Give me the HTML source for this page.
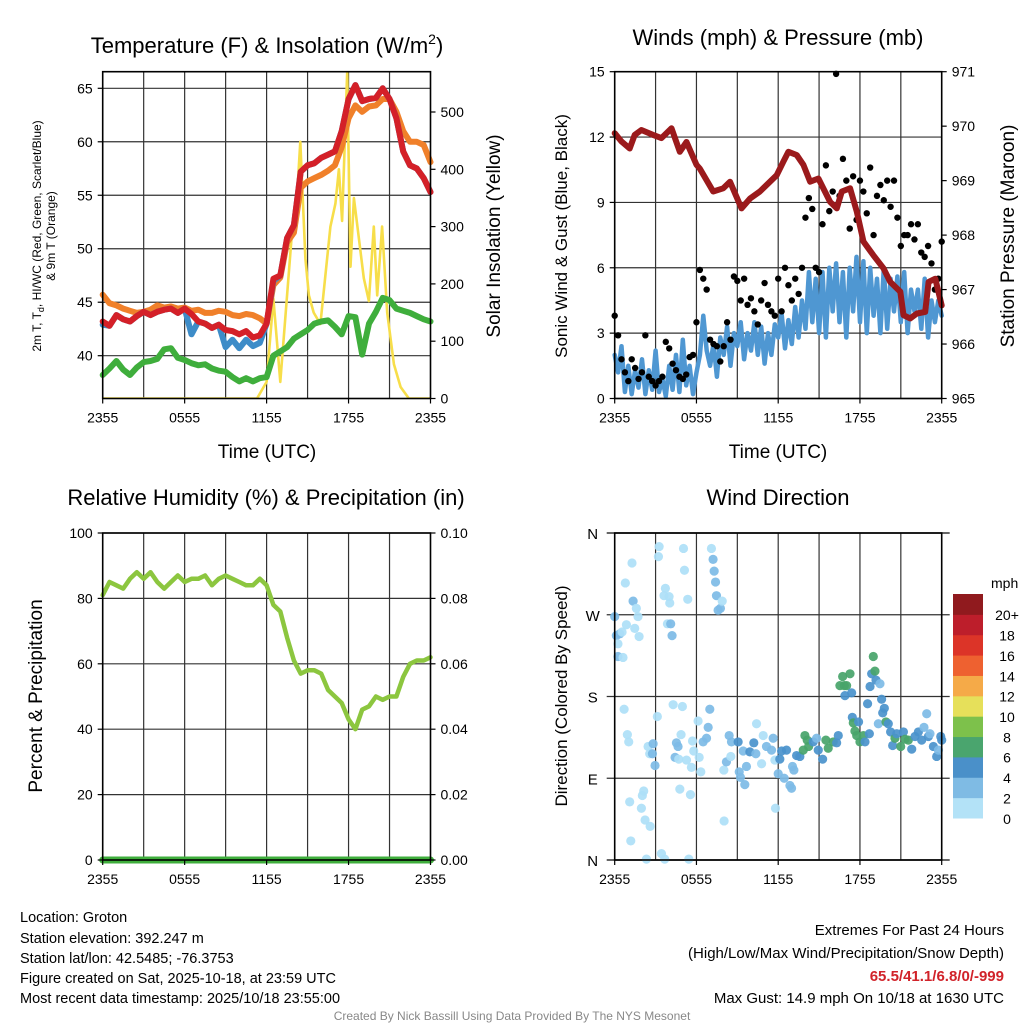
<!DOCTYPE html>
<html><head><meta charset="utf-8"><style>
html,body{margin:0;padding:0;background:#fff;}
svg{display:block;font-family:"Liberation Sans",Arial,sans-serif;}
</style></head><body>
<svg id="chart" width="1024" height="1024" viewBox="0 0 1024 1024" xmlns="http://www.w3.org/2000/svg">
<defs>
<clipPath id="clip1"><rect x="102.7" y="71.7" width="327.8" height="326.8"/></clipPath>
</defs>
<g id="grids"></g>
<g id="marks"></g>
<g id="frames"></g>
<g id="texts">
<text x="267" y="53" font-size="22" text-anchor="middle">Temperature (F) &amp; Insolation (W/m<tspan font-size="14" dy="-9">2</tspan><tspan dy="9">)</tspan></text>
<text x="778" y="45" font-size="22" text-anchor="middle">Winds (mph) &amp; Pressure (mb)</text>
<text x="266" y="505" font-size="22" text-anchor="middle">Relative Humidity (%) &amp; Precipitation (in)</text>
<text x="778" y="505" font-size="22" text-anchor="middle">Wind Direction</text>
<text x="267" y="458" font-size="19" text-anchor="middle">Time (UTC)</text>
<text x="778" y="458" font-size="19" text-anchor="middle">Time (UTC)</text>
<text transform="translate(41,236) rotate(-90)" font-size="12" text-anchor="middle">2m T, T<tspan font-size="9" dy="3">d</tspan><tspan dy="-3">, HI/WC (Red, Green, Scarlet/Blue)</tspan></text>
<text transform="translate(55,236) rotate(-90)" font-size="12" text-anchor="middle">&amp; 9m T (Orange)</text>
<text transform="translate(500,236) rotate(-90)" font-size="19" text-anchor="middle">Solar Insolation (Yellow)</text>
<text transform="translate(567,236) rotate(-90)" font-size="17" text-anchor="middle">Sonic Wind &amp; Gust (Blue, Black)</text>
<text transform="translate(1014,236) rotate(-90)" font-size="19" text-anchor="middle">Station Pressure (Maroon)</text>
<text transform="translate(42,696) rotate(-90)" font-size="19" text-anchor="middle">Percent &amp; Precipitation</text>
<text transform="translate(567,696) rotate(-90)" font-size="17" text-anchor="middle">Direction (Colored By Speed)</text>
<text x="991" y="588" font-size="14">mph</text>
<g font-size="14.5">
<text x="20" y="922">Location: Groton</text>
<text x="20" y="943">Station elevation: 392.247 m</text>
<text x="20" y="963">Station lat/lon: 42.5485; -76.3753</text>
<text x="20" y="983">Figure created on Sat, 2025-10-18, at 23:59 UTC</text>
<text x="20" y="1003">Most recent data timestamp: 2025/10/18 23:55:00</text>
</g>
<g font-size="15" text-anchor="end">
<text x="1004" y="935">Extremes For Past 24 Hours</text>
<text x="1004" y="958">(High/Low/Max Wind/Precipitation/Snow Depth)</text>
<text x="1004" y="981" fill="#d1232a" font-weight="bold">65.5/41.1/6.8/0/-999</text>
<text x="1004" y="1003">Max Gust: 14.9 mph On 10/18 at 1630 UTC</text>
</g>
<text x="512" y="1020" font-size="12" fill="#888" text-anchor="middle">Created By Nick Bassill Using Data Provided By The NYS Mesonet</text>
</g>
</svg>
<script>
// ---- data ----
const hourTicks = [0,6,12,18,24];
const hourTickLabels = ["2355","0555","1155","1755","2355"];
const tempTicks = [40,45,50,55,60,65];
const solarTicks = [0,100,200,300,400,500];
const windTicks = [0,3,6,9,12,15];
const presTicks = [965,966,967,968,969,970,971];
const rhTicks = [0,20,40,60,80,100];
const precipTickLabels = ["0.00","0.02","0.04","0.06","0.08","0.10"];
const dirTicks = [0,90,180,270,360];
const dirTickLabels = ["N","E","S","W","N"];
const cbLevels = ["0","2","4","6","8","10","12","14","16","18","20+"];
const cbColors = ["#b3e2f7","#7fbbe4","#4a90c9","#4aa56e","#7dc14b","#e6e05a","#f5aa48","#ee6130","#dc3428","#bd1e2b","#901a1e"];

const tempRed = [43.2,42.8,43.8,43.4,43.2,43.7,44.1,43.8,44.1,44.3,44.4,44.0,44.4,43.9,43.2,43.0,42.6,42.9,42.4,42.3,42.0,42.3,41.7,41.9,43.0,47.2,47.5,51.0,52.2,57.2,57.8,58.0,58.5,58.8,59.1,61.0,64.0,65.3,63.8,64.0,64.1,65.0,64.0,62.2,59.1,57.8,57.5,56.6,55.3];
const tempOrange = [45.7,44.9,44.7,44.4,44.2,44.0,44.1,44.3,44.7,44.5,44.6,44.4,44.5,44.2,44.3,44.0,44.0,44.2,44.1,43.8,43.7,43.9,43.8,43.5,43.0,46.6,47.3,50.6,51.5,55.7,56.3,56.6,56.9,57.3,57.8,59.5,62.2,63.4,62.8,63.3,63.4,64.0,64.0,62.8,61.0,60.0,60.0,59.7,58.1];
const tempBlue = [42.9,42.8,43.8,43.4,43.2,43.7,44.1,43.8,44.1,44.3,44.4,44.0,44.4,42.0,43.2,43.0,42.6,42.9,40.8,41.5,40.7,41.5,40.9,41.2,43.0,47.0,47.5,51.0,52.2,57.2,57.8,58.0,58.5,58.8,59.1,61.0,64.0,65.3,63.8,64.0,64.1,65.0,64.0,62.2,59.1,57.8,57.5,56.6,55.3];
const tempGreen = [38.2,38.8,39.5,38.7,38.2,38.9,39.4,39.5,39.7,40.6,40.7,39.8,39.6,39.3,39.1,39.2,38.8,38.6,38.5,38.0,37.6,37.9,37.6,37.9,38.0,40.0,40.4,40.8,41.6,42.0,42.4,43.0,43.2,43.3,42.7,42.0,43.7,43.6,40.1,43.0,44.1,45.4,45.2,44.4,44.2,44.0,43.7,43.4,43.2];
const solarHours = [0,11.3,12.0,12.5,13.0,13.86,14.2,14.47,14.84,15.1,15.45,15.94,16.67,17.04,17.29,17.53,17.9,18.14,18.39,19.12,19.49,19.85,20.1,20.46,20.83,21.32,21.81,22.42,24];
const solarValues = [0,0,29,174,29,290,340,448,244,180,150,130,300,340,400,310,570,230,350,210,170,300,180,300,150,60,20,0,0];

const windSpeed = [2.0,1.2,2.4,0.3,1.5,0.2,1.3,0.5,1.8,0.2,1.3,0.4,2.2,0.3,0.9,0.1,1.5,0.4,2.0,0.3,2.7,0.6,1.5,0.2,1.2,2.0,3.8,2.2,1.5,2.5,1.0,2.8,2.0,3.3,1.5,3.0,2.4,3.5,1.8,3.0,2.2,3.5,2.0,3.3,1.6,3.0,2.0,3.4,2.8,3.9,2.3,3.6,2.5,4.2,2.8,4.5,3.2,5.8,3.5,5.5,3.0,5.8,2.8,6.0,4.0,6.2,3.5,5.8,2.8,6.0,4.0,6.5,3.5,6.3,3.0,6.0,3.8,5.5,3.0,6.0,3.2,5.5,4.0,5.6,3.5,5.8,3.0,5.0,4.0,5.0,3.2,5.5,2.8,4.5,3.5,4.5,3.8];
const windGust = [3.8,2.9,1.8,1.2,0.8,1.8,1.4,0.9,1.2,2.9,1.0,0.8,0.6,0.8,1.0,2.6,2.3,1.6,1.3,1.0,0.9,1.1,1.9,2.0,3.5,5.9,5.5,5.0,2.7,2.5,2.4,1.7,2.4,3.5,2.7,5.6,5.4,4.5,5.5,4.3,4.6,4.0,3.4,4.5,5.3,4.3,4.0,3.8,5.5,4.0,6.0,5.2,4.5,5.5,4.8,6.0,8.3,9.2,8.7,6.0,5.8,8.0,10.7,8.6,9.5,14.9,9.3,11.0,10.0,7.8,10.2,8.2,10.0,9.5,8.5,10.6,7.5,9.3,9.8,9.1,10.0,8.8,10.0,8.3,7.0,7.5,7.5,8.0,7.3,8.0,6.7,6.5,7.0,6.2,5.0,5.5,7.2];
const presHours = [0,0.49,1.10,1.47,1.96,2.82,3.43,4.17,4.78,5.27,6.0,6.25,7.23,7.97,8.46,9.31,9.93,10.66,11.4,11.89,12.38,12.75,13.36,13.85,14.34,14.95,15.81,16.3,16.67,17.28,17.77,18.26,18.99,19.73,20.22,20.96,21.2,21.69,22.18,22.79,23.04,23.53,24.0];
const presValues = [969.87,969.72,969.59,969.84,969.93,969.84,969.78,969.96,969.53,969.71,969.29,969.22,968.80,968.86,968.98,968.49,968.67,968.80,968.98,969.10,969.35,969.53,969.47,969.29,968.98,969.04,968.61,968.49,968.80,968.86,968.43,967.88,967.63,967.39,967.14,966.96,966.53,966.47,966.56,966.59,967.14,967.20,966.71];

const rhValues = [81,85,84,83,86,88,86,88,85,83,85,87,85,86,86,87,84,86,87,86,85,84,84,86,84,78,76,68,61,57,58,58,57,52,50,48,43,40,46,47,50,49,50,50,56,60,61,61,62,64].slice(0,49);
const precipValues = [0,0,0,0,0,0,0,0,0,0,0,0,0,0,0,0,0,0,0,0,0,0,0,0,0];

const dirHours = [0,0.12,0.37,0.24,0.24,0.61,0.54,0.86,0.78,1.27,1.35,1.59,1.71,1.47,1.79,0.69,0.93,1.03,1.10,1.18,1.96,2.03,2.13,2.23,2.60,2.33,2.45,2.57,2.82,2.77,2.96,3.13,3.26,3.21,3.72,3.62,3.99,4.04,3.87,4.11,4.21,3.43,3.67,4.29,4.97,4.53,4.65,4.43,4.70,5.27,4.87,4.78,5.56,5.44,5.05,5.12,5.36,5.63,5.71,5.80,6.12,6.20,6.32,6.49,6.74,6.86,6.98,7.10,7.22,7.30,7.40,7.47,7.59,7.76,7.89,8.03,8.01,8.20,8.40,8.57,8.52,9.06,9.14,9.23,9.55,9.43,9.67,9.92,10.21,10.41,10.36,10.78,10.90,11.14,11.51,11.63,11.76,11.80,12.0,12.12,12.25,12.44,12.61,12.86,12.98,13.05,13.15,13.35,13.59,13.96,14.13,13.84,14.23,14.57,14.82,14.94,15.26,15.50,15.67,16.04,16.29,16.41,16.53,16.73,16.85,17.02,17.27,16.90,17.39,17.44,17.51,17.63,17.76,17.90,18.0,18.25,18.37,18.56,18.69,18.74,18.86,18.98,19.10,19.18,19.35,19.47,19.59,19.67,19.79,19.91,20.08,20.25,20.40,20.57,20.70,20.99,21.19,21.31,21.55,21.80,22.04,22.29,22.53,22.70,22.90,23.02,23.14,23.39,23.63,23.76,23.93,24.0];
const dirDegrees = [268,247,249,238,224,223,251,259,305,327,285,277,268,255,246,166,138,130,64,21,57,71,76,44,37,1,125,117,128,117,104,158,345,334,299,291,290,283,260,260,247,7,1,171,169,129,125,113,111,110,138,78,72,1,343,319,287,102,131,120,153,113,97,130,134,146,166,343,331,318,306,291,275,277,285,43,99,108,137,130,114,130,97,91,83,120,103,119,129,150,117,106,137,125,121,134,110,57,95,111,120,90,121,82,79,103,99,115,114,137,132,121,125,130,134,121,111,132,123,130,129,137,192,202,192,192,205,181,184,157,151,142,137,152,130,137,130,172,139,191,205,224,208,198,150,194,177,162,167,152,150,141,126,134,139,125,141,133,132,122,136,141,132,146,161,136,139,125,114,121,136,132];
const dirSpeeds = [3,3,3,1,3,1,1,1,1,1,3,1,1,1,1,1,1,1,1,1,1,1,1,1,1,1,1,1,3,3,3,1,1,1,1,1,1,1,1,3,3,1,1,1,1,3,3,3,1,1,1,1,1,1,1,1,1,1,1,1,1,1,1,3,3,3,3,1,3,3,3,3,3,3,1,1,1,3,3,3,1,5,3,3,3,3,3,5,5,1,3,1,1,3,3,3,1,1,3,5,5,3,5,3,3,3,3,5,5,7,7,7,7,5,3,5,5,7,7,7,5,5,7,7,7,7,7,5,5,5,7,7,7,5,7,7,5,5,5,5,5,7,7,5,3,3,5,5,5,7,5,5,5,7,5,7,5,7,7,5,5,5,5,3,3,5,3,5,5,3,5,5];

// ---- helpers ----
const NS = "http://www.w3.org/2000/svg";
const gGrid = document.getElementById('grids');
const gMarks = document.getElementById('marks');
const gFrames = document.getElementById('frames');
const gTexts = document.getElementById('texts');
function mk(tag, attrs, parent){ const e=document.createElementNS(NS,tag); for(const k in attrs) e.setAttribute(k,attrs[k]); parent.appendChild(e); return e; }
function lin(d0,d1,r0,r1){ return v => r0 + (v-d0)/(d1-d0)*(r1-r0); }

const P1 = {x0:102.7,x1:430.5,y0:71.7,y1:398.5};
const P2 = {x0:614.7,x1:941.7,y0:71.7,y1:398.5};
const P3 = {x0:102.7,x1:430.5,y0:533,y1:860};
const P4 = {x0:614.7,x1:941.7,y0:533,y1:860};

function panelGrid(P, yScale, yTicks, name, extend){
  const xs = lin(0,24,P.x0,P.x1);
  for(let h=3; h<24; h+=3){
    const l = mk('line',{x1:xs(h),x2:xs(h),y1:P.y0,y2:P.y1,stroke:'#333','stroke-width':1.2},gGrid);
    
    
  }
  yTicks.forEach(t=>{
    const y = yScale(t);
    const l = mk('line',{x1:P.x0-(extend||0),x2:P.x1+(extend||0),y1:y,y2:y,stroke:'#333','stroke-width':1.2},gGrid);
    
    
  });
  const f = mk('rect',{x:P.x0,y:P.y0,width:P.x1-P.x0,height:P.y1-P.y0,fill:'none',stroke:'#000','stroke-width':1.6},gFrames);
  
  
  hourTicks.forEach((h,i)=>{
    mk('line',{x1:xs(h),x2:xs(h),y1:P.y1,y2:P.y1+5,stroke:'#000','stroke-width':1.2},gFrames);
    const t = mk('text',{x:xs(h),y:P.y1+24,'font-size':14,'text-anchor':'middle'},gTexts);
    t.textContent = hourTickLabels[i];
    
    
  });
}
function leftLabels(P, scale, ticks, labels, name){
  ticks.forEach((v,i)=>{
    const y = scale(v);
    mk('line',{x1:P.x0-5,x2:P.x0,y1:y,y2:y,stroke:'#000','stroke-width':1.2},gFrames);
    const t = mk('text',{x:P.x0-10,y:y+5,'font-size':14,'text-anchor':'end'},gTexts);
    t.textContent = labels ? labels[i] : String(v);
    
    
  });
}
function rightLabels(P, scale, ticks, labels, name){
  ticks.forEach((v,i)=>{
    const y = scale(v);
    mk('line',{x1:P.x1,x2:P.x1+5,y1:y,y2:y,stroke:'#000','stroke-width':1.2},gFrames);
    const t = mk('text',{x:P.x1+10,y:y+5,'font-size':14,'text-anchor':'start'},gTexts);
    t.textContent = labels ? labels[i] : String(v);
    
    
  });
}
function polyline(xsArr, ysArr, color, width, name, clip){
  const pts = xsArr.map((x,i)=>x.toFixed(1)+','+ysArr[i].toFixed(1)).join(' ');
  const p = mk('polyline',{points:pts,fill:'none',stroke:color,'stroke-width':width,'stroke-linejoin':'round','stroke-linecap':'round'},gMarks);
  if(clip) p.setAttribute('clip-path','url(#'+clip+')');
  
  
  return p;
}

// ---- panel 1: temperature ----
{
  const xs = lin(0,24,P1.x0,P1.x1);
  const yT = lin(40,65,355.7,88.3);
  const yS = lin(0,500,398.5,112);
  panelGrid(P1,yT,tempTicks,'temp-panel');
  leftLabels(P1,yT,tempTicks,null,'temp-y');
  rightLabels(P1,yS,solarTicks,null,'solar-y');
  const hx = tempRed.map((_,i)=>xs(i*24/(tempRed.length-1)));
  polyline(solarHours.map(xs), solarValues.map(yS), '#f7de4a', 2.6, 'solar-insolation-line','clip1');
  polyline(hx, tempGreen.map(yT), '#3fae3c', 6, 'dewpoint-line');
  polyline(hx, tempOrange.map(yT), '#f0802a', 6, 'temp-9m-line');
  polyline(hx, tempBlue.map(yT), '#3d8cc8', 6, 'heat-index-windchill-line');
  polyline(hx, tempRed.map(yT), '#d42028', 6, 'temp-2m-line');
}
// ---- panel 2: winds ----
{
  const xs = lin(0,24,P2.x0,P2.x1);
  const yW = lin(0,15,398.5,71.7);
  const yP = lin(965,971,398.5,71.7);
  panelGrid(P2,yW,windTicks,'wind-panel');
  leftLabels(P2,yW,windTicks,null,'wind-y');
  rightLabels(P2,yP,presTicks,null,'pressure-y');
  polyline(windSpeed.map((_,i)=>xs(i*24/(windSpeed.length-1))), windSpeed.map(yW), '#4f97d2', 4.5, 'wind-speed-line');
  windGust.forEach((g,i)=>{
    const c = mk('circle',{cx:xs(i*24/(windGust.length-1)),cy:yW(g),r:3.2,fill:'#000'},gMarks);
    
    
  });
  polyline(presHours.map(xs), presValues.map(yP), '#9b1a1c', 6, 'pressure-line');
}
// ---- panel 3: RH ----
{
  const xs = lin(0,24,P3.x0,P3.x1);
  const yR = lin(0,100,860,533);
  const yPr = lin(0,0.1,860,533);
  panelGrid(P3,yR,rhTicks,'rh-panel');
  leftLabels(P3,yR,rhTicks,null,'rh-y');
  rightLabels(P3,yR,rhTicks,precipTickLabels,'precip-y');
  polyline(rhValues.map((_,i)=>xs(i*24/(rhValues.length-1))), rhValues.map(yR), '#8cc63f', 4.5, 'relative-humidity-line');
  polyline(precipValues.map((_,i)=>xs(i*24/(precipValues.length-1))), precipValues.map(yPr), '#3fae3c', 7, 'precipitation-line');
}
// ---- panel 4: wind direction ----
{
  const xs = lin(0,24,P4.x0,P4.x1);
  const yD = lin(0,360,860,533);
  panelGrid(P4,yD,dirTicks.slice(1,4),'direction-panel',8);
  [0,360].forEach(v=>{
    const l = mk('line',{x1:P4.x0-8,x2:P4.x1+8,y1:yD(v),y2:yD(v),stroke:'#333','stroke-width':1.4},gGrid);
    
    
  });
  dirTicks.forEach((v,i)=>{
    const t = mk('text',{x:P4.x0-22,y:yD(v)+6,'font-size':15,'text-anchor':'middle'},gTexts);
    t.textContent = dirTickLabels[i];
    
    
  });
  dirHours.forEach((h,i)=>{
    const s = dirSpeeds[i];
    const ci = Math.min(10, Math.floor(s/2));
    const col = ["#aee0f7","#7dbbe6","#4a92cc","#48a46a"][Math.min(3,ci)] || cbColors[ci];
    const c = mk('circle',{cx:xs(h),cy:yD(dirDegrees[i]),r:4.6,fill:col,'fill-opacity':0.92},gMarks);
    
    
  });
  // colorbar
  const cbx=953, cbw=30, cbTop=594, cbH=224/11;
  cbColors.forEach((col,i)=>{
    const y = cbTop + (10-i)*cbH;
    const r = mk('rect',{x:cbx,y:y,width:cbw,height:cbH+0.5,fill:col},gMarks);
    
    
    const t = mk('text',{x:1007,y:y+cbH/2+16,'font-size':14,'text-anchor':'middle'},gTexts);
    t.textContent = cbLevels[i];
    
    
  });
}
</script>
</body></html>
